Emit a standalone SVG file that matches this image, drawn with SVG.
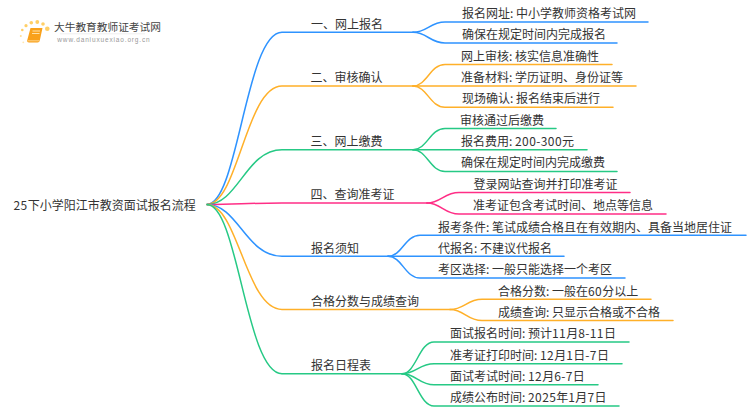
<svg xmlns="http://www.w3.org/2000/svg" width="750" height="410" viewBox="0 0 750 410">
<style>
text{font-family:"Noto Sans CJK SC","Noto Sans",sans-serif;font-size:12px;fill:#333}
.n{letter-spacing:.4px}
.c{fill:none;stroke-width:1.5;stroke-linecap:round}
.b{stroke:#2e93ff}.o{stroke:#ffb029}.g{stroke:#26c985}.p{stroke:#ff2e86}
.d{fill:#ffcf66}
</style>
<rect width="750" height="410" fill="#fff"/>
<g id="logo">
<circle class="d" cx="47.300" cy="28.700" r="2.300"/>
<circle class="d" cx="43" cy="24" r="1.800"/>
<circle class="d" cx="37.300" cy="22" r="1.900"/>
<circle class="d" cx="31.300" cy="22.700" r="1.800"/>
<circle class="d" cx="26" cy="25.700" r="1.600"/>
<circle class="d" cx="22.300" cy="30" r="1.300"/>
<circle class="d" cx="20.800" cy="36" r="1" opacity=".7"/>
<circle class="d" cx="23.300" cy="42.300" r="0.900" opacity=".5"/>
<path d="M30.500 28H42.500L39.800 40.500Q39.500 42.500 37.500 42.500H29Q26.800 42.500 27.300 40Z" fill="#f9a11b"/>
<path d="M28 40.800H39.500" stroke="#ffe2a8" stroke-width=".8" fill="none"/>
<path d="M32.500 31H40M32 33.500H39.500" stroke="#ffe2a8" stroke-width="1" fill="none"/>
<path d="M60 33.800H145" stroke="#efefef" stroke-width="1" fill="none"/>
<text x="54" y="31" style="font-size:10.700px;fill:#444">大牛教育教师证考试网</text>
<text x="57.300" y="41.500" style="font-size:6.500px;letter-spacing:.85px;fill:#999;font-family:'Liberation Sans',sans-serif">www.daniuxuexiao.org.cn</text>
</g>
<g id="connectors">
<path class="c b" d="M207 204.500C238 204.500 246 32.300 282 32.300H413"/>
<path class="c b" d="M413 32.300C427 32.300 430 22 445 22H648"/>
<path class="c b" d="M413 32.300C427 32.300 430 43 445 43H617"/>
<path class="c o" d="M207 204.500C238 204.500 246 86 282 86H413"/>
<path class="c o" d="M413 86C427 86 430 64.500 445 64.500H612"/>
<path class="c o" d="M413 86H636"/>
<path class="c o" d="M413 86C427 86 430 107.300 445 107.300H613"/>
<path class="c g" d="M207 204.500C238 204.500 246 149.700 282 149.700H413"/>
<path class="c g" d="M413 149.700C427 149.700 430 128.500 445 128.500H556"/>
<path class="c g" d="M413 149.700H587"/>
<path class="c g" d="M413 149.700C427 149.700 430 171.500 445 171.500H617"/>
<path class="c p" d="M207 204.500C238 204.500 246 203 282 203H427"/>
<path class="c p" d="M427 203C441 203 444 192.500 459 192.500H630"/>
<path class="c p" d="M427 203C441 203 444 214 459 214H666"/>
<path class="c b" d="M207 204.500C238 204.500 246 256.300 282 256.300H388"/>
<path class="c b" d="M388 256.300C402 256.300 405 235.300 420 235.300H746"/>
<path class="c b" d="M388 256.300H564"/>
<path class="c b" d="M388 256.300C402 256.300 405 278 420 278H625"/>
<path class="c o" d="M207 204.500C238 204.500 246 309.500 282 309.500H450"/>
<path class="c o" d="M450 309.500C464 309.500 467 299.300 482 299.300H651"/>
<path class="c o" d="M450 309.500C464 309.500 467 320.500 482 320.500H673"/>
<path class="c g" d="M207 204.500C238 204.500 246 373.700 282 373.700H402"/>
<path class="c g" d="M402 373.700C416 373.700 419 342 434 342H629"/>
<path class="c g" d="M402 373.700C416 373.700 419 363.700 434 363.700H622"/>
<path class="c g" d="M402 373.700C416 373.700 419 384.700 434 384.700H598"/>
<path class="c g" d="M402 373.700C416 373.700 419 406 434 406H619"/>
</g>
<g id="root"><text x="13.500" y="209.500"><tspan class="n">25</tspan>下小学阳江市教资面试报名流程</text></g>
<g id="n1"><text x="311" y="29">一、网上报名</text></g>
<g id="n1-1"><text x="462" y="18">报名网址: 中小学教师资格考试网</text></g>
<g id="n1-2"><text x="462" y="39">确保在规定时间内完成报名</text></g>
<g id="n2"><text x="310.500" y="82">二、审核确认</text></g>
<g id="n2-1"><text x="461" y="60.500">网上审核: 核实信息准确性</text></g>
<g id="n2-2"><text x="461" y="82">准备材料: 学历证明、身份证等</text></g>
<g id="n2-3"><text x="462" y="103">现场确认: 报名结束后进行</text></g>
<g id="n3"><text x="310.500" y="146">三、网上缴费</text></g>
<g id="n3-1"><text x="460" y="124.500">审核通过后缴费</text></g>
<g id="n3-2"><text x="461" y="146">报名费用: <tspan class="n">200-300</tspan>元</text></g>
<g id="n3-3"><text x="461" y="167">确保在规定时间内完成缴费</text></g>
<g id="n4"><text x="310.500" y="199">四、查询准考证</text></g>
<g id="n4-1"><text x="473.500" y="188.500">登录网站查询并打印准考证</text></g>
<g id="n4-2"><text x="473" y="210">准考证包含考试时间、地点等信息</text></g>
<g id="n5"><text x="311" y="253">报名须知</text></g>
<g id="n5-1"><text x="438" y="232">报考条件: 笔试成绩合格且在有效期内、具备当地居住证</text></g>
<g id="n5-2"><text x="438" y="253">代报名: 不建议代报名</text></g>
<g id="n5-3"><text x="438" y="274">考区选择: 一般只能选择一个考区</text></g>
<g id="n6"><text x="311" y="306">合格分数与成绩查询</text></g>
<g id="n6-1"><text x="498" y="295.500">合格分数: 一般在<tspan class="n">60</tspan>分以上</text></g>
<g id="n6-2"><text x="498" y="317">成绩查询: 只显示合格或不合格</text></g>
<g id="n7"><text x="311" y="370">报名日程表</text></g>
<g id="n7-1"><text x="450" y="338">面试报名时间: 预计<tspan class="n">11</tspan>月<tspan class="n">8-11</tspan>日</text></g>
<g id="n7-2"><text x="450" y="359.500">准考证打印时间: <tspan class="n">12</tspan>月<tspan class="n">1</tspan>日<tspan class="n">-7</tspan>日</text></g>
<g id="n7-3"><text x="450" y="381">面试考试时间: <tspan class="n">12</tspan>月<tspan class="n">6-7</tspan>日</text></g>
<g id="n7-4"><text x="450" y="402">成绩公布时间: <tspan class="n">2025</tspan>年<tspan class="n">1</tspan>月<tspan class="n">7</tspan>日</text></g>
</svg>
